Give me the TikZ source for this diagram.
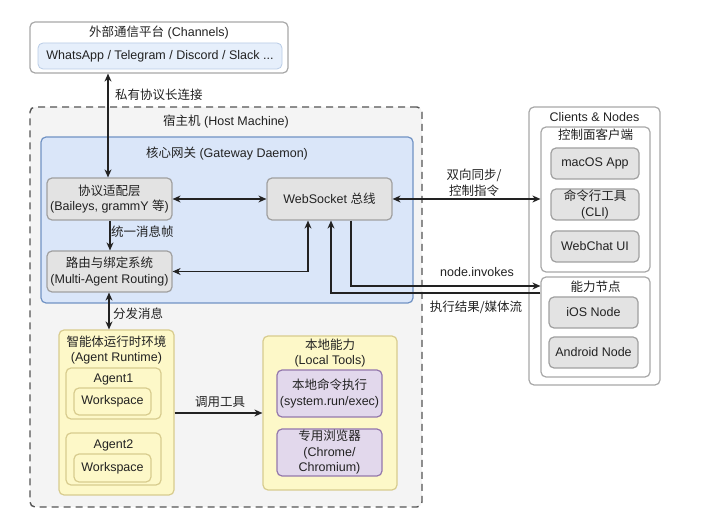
\documentclass[tikz,border=0pt]{standalone}
\usepackage{fontspec}
\setmainfont{Liberation Sans}
\newfontfamily\cjk{Noto Sans CJK SC}
\newcommand{\zh}[1]{{\cjk #1}}
\usetikzlibrary{arrows.meta}
\definecolor{hostfill}{HTML}{F4F4F4}
\definecolor{hostline}{HTML}{555555}
\definecolor{gwfill}{HTML}{DAE6F9}
\definecolor{gwline}{HTML}{7193C4}
\definecolor{grayfill}{HTML}{E3E3E3}
\definecolor{grayline}{HTML}{A0A0A0}
\definecolor{chinfill}{HTML}{E6EFFB}
\definecolor{chinline}{HTML}{B9CCE6}
\definecolor{outline}{HTML}{A8A8A8}
\definecolor{yelfill}{HTML}{FDF8C8}
\definecolor{yelline}{HTML}{D8CC8E}
\definecolor{purfill}{HTML}{E2D8EC}
\definecolor{purline}{HTML}{9478AC}
\definecolor{ink}{HTML}{222222}
\newcommand\mybox[7]{\node[#2, minimum width={(#5-#3)*1pt}, minimum height={(#6-#4)*1pt}, inner sep=0pt] (#1) at ({(#3+#5)/2},{(#4+#6)/2}) {#7};}
\tikzset{
  base/.style={rounded corners=5pt, line width=1.2pt, align=center, text=ink},
  hostbox/.style={base, draw=hostline, fill=hostfill, dash pattern=on 7pt off 5pt, line width=1.4pt},
  gwbox/.style={base, draw=gwline, fill=gwfill},
  graybox/.style={base, draw=grayline, fill=grayfill},
  whitebox/.style={base, draw=outline, fill=white},
  chinbox/.style={base, draw=chinline, fill=chinfill, line width=0.8pt},
  yelbox/.style={base, draw=yelline, fill=yelfill},
  purbox/.style={base, draw=purline, fill=purfill},
  lbl/.style={text=ink, inner sep=0pt, align=center},
  conn/.style={draw=ink, line width=1.1pt, >={Stealth[length=8pt,width=7pt]}},
}
\begin{document}
\begin{tikzpicture}[x=1pt,y=-1pt, font=\fontsize{12.5}{15.5}\selectfont]
\useasboundingbox (0,0) rectangle (705,529);
% channels
\mybox{chan}{whitebox}{30}{22}{288}{73}{}
\node[lbl] (chant) at (159,33) {\zh{外部通信平台} (Channels)};
\mybox{chin}{chinbox}{38}{43}{282}{69}{WhatsApp / Telegram / Discord / Slack ...}
% host
\mybox{host}{hostbox}{30}{107}{422}{507}{}
\node[lbl] (hostt) at (226,122) {\zh{宿主机} (Host Machine)};
% gateway
\mybox{gw}{gwbox}{41}{137}{413}{303}{}
\node[lbl] (gwt) at (227,154) {\zh{核心网关} (Gateway Daemon)};
\mybox{ad}{graybox}{47}{178}{172}{220}{\zh{协议适配层}\\(Baileys, grammY \zh{等})}
\mybox{ws}{graybox}{267}{178}{392}{220}{WebSocket \zh{总线}}
\mybox{rt}{graybox}{47}{251}{172}{292}{\zh{路由与绑定系统}\\(Multi-Agent Routing)}
% agent runtime
\mybox{ag}{yelbox}{59}{330}{174}{495}{}
\node[lbl] (agt) at (116.5,350) {\zh{智能体运行时环境}\\(Agent Runtime)};
\mybox{a1}{yelbox}{66}{368}{161}{419}{}
\node[lbl] (a1t) at (113.5,379) {Agent1};
\mybox{w1}{yelbox}{74}{388}{151}{415}{Workspace}
\mybox{a2}{yelbox}{66}{433}{161}{485}{}
\node[lbl] (a2t) at (113.5,445) {Agent2};
\mybox{w2}{yelbox}{74}{454}{151}{482}{Workspace}
% local tools
\mybox{lt}{yelbox}{263}{336}{397}{490}{}
\node[lbl] (ltt) at (330,353) {\zh{本地能力}\\(Local Tools)};
\mybox{cmd}{purbox}{277}{370}{382}{417}{\zh{本地命令执行}\\(system.run/exec)}
\mybox{br}{purbox}{277}{429}{382}{476}{\zh{专用浏览器}\\(Chrome/\\Chromium)}
% clients
\mybox{cl}{whitebox}{529}{107}{660}{385}{}
\node[lbl] (clt) at (594.5,117) {Clients \& Nodes};
\mybox{ctl}{whitebox}{541}{127}{650}{272}{}
\node[lbl] (ctlt) at (595.5,135) {\zh{控制面客户端}};
\mybox{mac}{graybox}{551}{148}{639}{179}{macOS App}
\mybox{cli}{graybox}{551}{189}{639}{220}{\zh{命令行工具}\\(CLI)}
\mybox{wc}{graybox}{551}{231}{639}{262}{WebChat UI}
\mybox{cap}{whitebox}{541}{277}{650}{377}{}
\node[lbl] (capt) at (595.5,287) {\zh{能力节点}};
\mybox{ios}{graybox}{549}{297}{638}{328}{iOS Node}
\mybox{and}{graybox}{549}{337}{638}{368}{Android Node}
% connector coordinates
\coordinate (k1) at (108,0);
\coordinate (k2) at (110,0);
\coordinate (k3) at (308,0);
\coordinate (k4) at (351,286);
\coordinate (k6) at (331,293);
\coordinate (k7) at (109,0);
\coordinate (k8) at (0,413);
% connectors
\draw[conn,<->] (chan.south -| k1) -- (ad.north -| k1);
\node[lbl,anchor=west] (l1) at (115,95) {\zh{私有协议长连接}};
\draw[conn,<->] (ad.east) -- (ws.west);
\draw[conn,->] (ad.south -| k2) -- (rt.north -| k2);
\node[lbl,anchor=west] (l2) at (111,232) {\zh{统一消息帧}};
\draw[conn,<->] (rt.east) -| (ws.south -| k3);
\draw[conn,<->] (ws.east) -- (ws.east -| ctl.west);
\node[lbl] (l3) at (474,183) {\zh{双向同步/}\\\zh{控制指令}};
\draw[conn,->] (ws.south -| k4) |- (cap.west |- k4);
\node[lbl] (l4) at (477,272) {node.invokes};
\draw[conn,->] (cap.west |- k6) -| (ws.south -| k6);
\node[lbl] (l5) at (476,307) {\zh{执行结果/媒体流}};
\draw[conn,<->] (rt.south -| k7) -- (ag.north -| k7);
\node[lbl,anchor=west] (l6) at (113,314) {\zh{分发消息}};
\draw[conn,->] (ag.east |- k8) -- (lt.west |- k8);
\node[lbl] (l7) at (220,402) {\zh{调用工具}};
\end{tikzpicture}
\end{document}
